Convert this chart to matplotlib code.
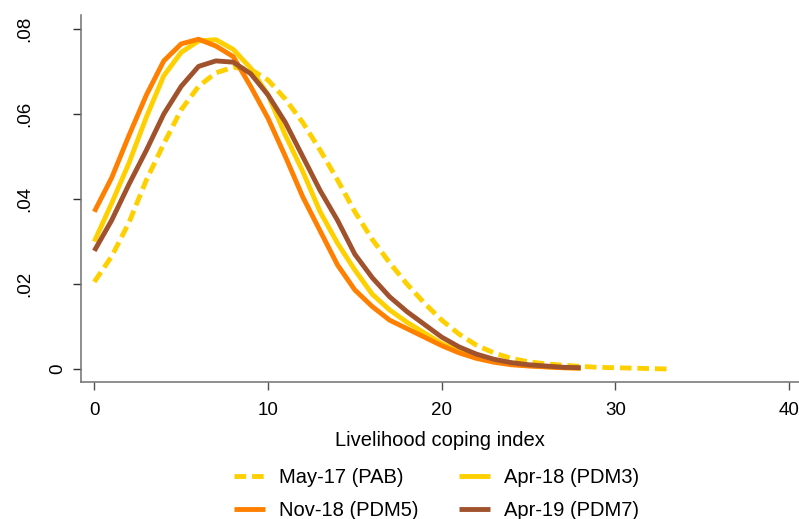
import matplotlib
matplotlib.use("Agg")
import matplotlib.pyplot as plt
from matplotlib.ticker import FixedLocator

plt.rcParams['font.family'] = ['Liberation Sans', 'DejaVu Sans']

# ---- data (kernel density estimates) ----
x_pab = list(range(0, 34))
y_pab = [0.0205, 0.0265, 0.0345, 0.0445, 0.0530, 0.0610, 0.0665, 0.0697, 0.0710, 0.0705,
         0.0680, 0.0635, 0.0580, 0.0515, 0.0445, 0.0370, 0.0305, 0.0250, 0.0200, 0.0155,
         0.0115, 0.0082, 0.0056, 0.0038, 0.0025, 0.0017, 0.0012, 0.0009, 0.0006, 0.0004,
         0.0003, 0.0002, 0.0001, 0.0000]

x_pdm = list(range(0, 29))
y_pdm3 = [0.0300, 0.0390, 0.0485, 0.0593, 0.0690, 0.0745, 0.0772, 0.0775, 0.0752, 0.0708,
          0.0645, 0.0550, 0.0465, 0.0370, 0.0296, 0.0233, 0.0176, 0.0139, 0.0110, 0.0085,
          0.0060, 0.0042, 0.0028, 0.0018, 0.0012, 0.0008, 0.0005, 0.0003, 0.0002]
y_pdm5 = [0.0370, 0.0450, 0.0550, 0.0645, 0.0725, 0.0765, 0.0776, 0.0760, 0.0735, 0.0665,
          0.0590, 0.0500, 0.0405, 0.0325, 0.0245, 0.0186, 0.0147, 0.0115, 0.0095, 0.0075,
          0.0055, 0.0038, 0.0025, 0.0016, 0.0010, 0.0007, 0.0005, 0.0003, 0.0002]
y_pdm7 = [0.0278, 0.0350, 0.0435, 0.0515, 0.0600, 0.0665, 0.0712, 0.0725, 0.0722, 0.0695,
          0.0645, 0.0580, 0.0500, 0.0420, 0.0350, 0.0270, 0.0215, 0.0170, 0.0135, 0.0105,
          0.0075, 0.0052, 0.0035, 0.0023, 0.0015, 0.0010, 0.0007, 0.0004, 0.0003]

labels = ["May-17 (PAB)", "Apr-18 (PDM3)", "Nov-18 (PDM5)", "Apr-19 (PDM7)"]
colors = ["#FFD000", "#FFD000", "#FF8000", "#A0522D"]

x_ticks = [0, 10, 20, 30, 40]
y_ticks = [0, 0.02, 0.04, 0.06, 0.08]
y_ticklabels = ["0", ".02", ".04", ".06", ".08"]

# ---- figure ----
W, H = 799, 519
fig = plt.figure(figsize=(W / 100, H / 100), dpi=100)
ax = fig.add_axes([81 / W, 1 - 382 / H, 1 - 81 / W, (382 - 15) / H])

lw = 3.5
h0, = ax.plot(x_pab, y_pab, color=colors[0], lw=lw, dashes=(2.4, 1.2), label=labels[0],
              solid_capstyle='butt', dash_capstyle='butt')
h1, = ax.plot(x_pdm, y_pdm3, color=colors[1], lw=lw, label=labels[1], solid_capstyle='butt')
h2, = ax.plot(x_pdm, y_pdm5, color=colors[2], lw=lw, label=labels[2], solid_capstyle='butt')
h3, = ax.plot(x_pdm, y_pdm7, color=colors[3], lw=lw, label=labels[3], solid_capstyle='butt')

ax.set_xlim(-0.766, 40.57)
ax.set_ylim(-0.00306, 0.0833)

for s in ['top', 'right']:
    ax.spines[s].set_visible(False)
for s in ['left', 'bottom']:
    ax.spines[s].set_color('#707070')
    ax.spines[s].set_linewidth(1.1)

ax.xaxis.set_major_locator(FixedLocator(x_ticks))
ax.set_xticklabels([str(v) for v in x_ticks])
ax.yaxis.set_major_locator(FixedLocator(y_ticks))
ax.set_yticklabels(y_ticklabels)

ax.tick_params(axis='x', length=5.8, width=1.0, color='#505050', pad=8.5, labelsize=13.5)
ax.tick_params(axis='y', length=5.8, width=1.0, color='#303030', pad=28.6, labelsize=13.5)
for t in ax.get_yticklabels():
    t.set_rotation(90)
    t.set_verticalalignment('center')
# Stata places the single-digit "0" label much closer to the axis
ax.yaxis.get_major_ticks()[0].set_pad(4.5)

ax.set_xlabel("Livelihood coping index", fontsize=14.5)
ax.xaxis.set_label_coords(0.5, -(431 - 382) / (382 - 15))
ax.xaxis.label.set_verticalalignment('top')

# row-major legend order: (PAB, PDM3) / (PDM5, PDM7)
fig.legend([h0, h2, h1, h3], [labels[0], labels[2], labels[1], labels[3]],
           loc='upper left', bbox_to_anchor=(234 / W, 1 - 468 / H), ncol=2,
           frameon=False, fontsize=14.5, handlelength=1.54, handletextpad=0.67,
           columnspacing=2.05, labelspacing=0.72, borderpad=0, borderaxespad=0)

fig.savefig("out.png", dpi=100)
